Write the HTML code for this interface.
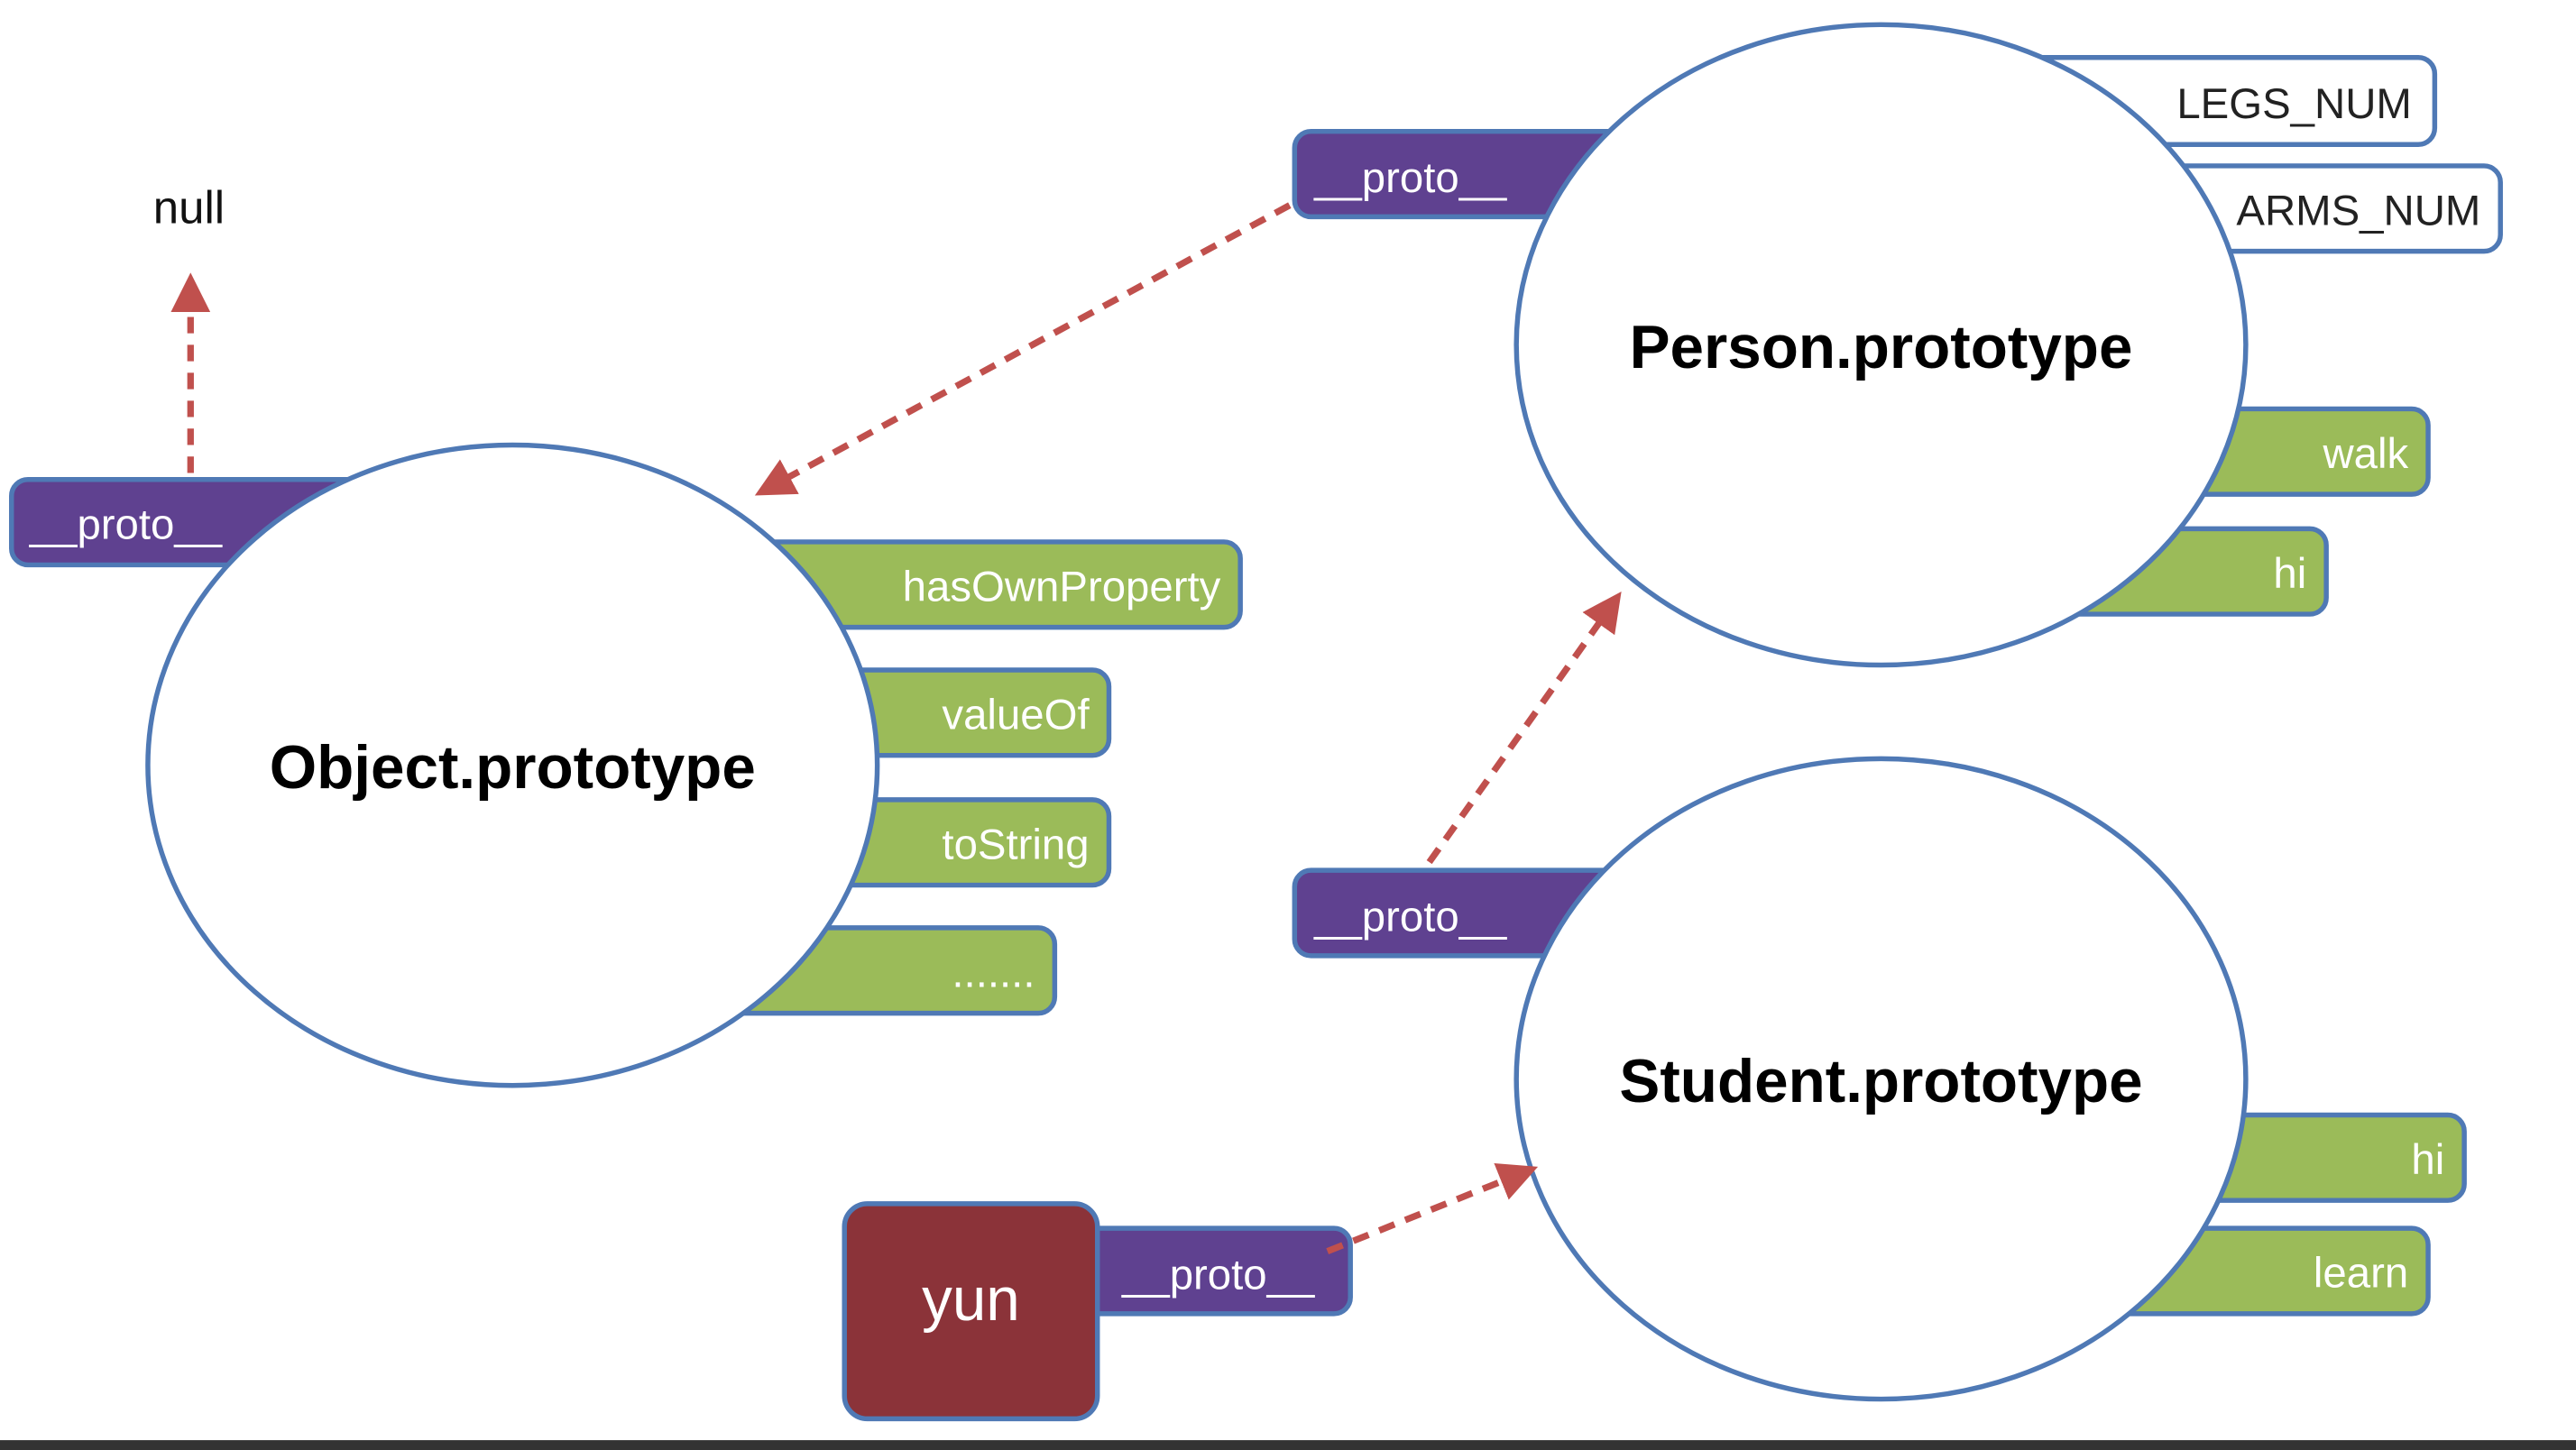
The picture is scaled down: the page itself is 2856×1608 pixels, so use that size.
<!DOCTYPE html>
<html><head><meta charset="utf-8"><style>
html,body{margin:0;padding:0;background:#fff;width:2856px;height:1608px;overflow:hidden}
svg{display:block}
text{font-family:"Liberation Sans",sans-serif}
</style></head><body>
<svg width="2856" height="1608" viewBox="0 0 1568 883" preserveAspectRatio="none" xmlns="http://www.w3.org/2000/svg">
<defs>
<marker id="ah" markerWidth="6" markerHeight="6" refX="3" refY="3" orient="auto" markerUnits="strokeWidth">
<path d="M0,0 L6,3 L0,6 z" fill="#c0504d"/></marker>
</defs>
<rect width="1568" height="883" fill="#fff"/>
<g stroke="#4f79b5" stroke-width="3">
<!-- object pills -->
<rect x="7" y="292" width="230" height="52" rx="10" fill="#5f4190"/>
<rect x="440" y="330" width="315" height="52" rx="10" fill="#9bbb59"/>
<rect x="480" y="408" width="195" height="52" rx="10" fill="#9bbb59"/>
<rect x="480" y="487" width="195" height="52" rx="10" fill="#9bbb59"/>
<rect x="430" y="565" width="212" height="52" rx="10" fill="#9bbb59"/>
<!-- person pills -->
<rect x="788" y="80" width="230" height="52" rx="10" fill="#5f4190"/>
<rect x="1200" y="35" width="282" height="53" rx="10" fill="#fff"/>
<rect x="1280" y="101" width="242" height="52" rx="10" fill="#fff"/>
<rect x="1300" y="249" width="178" height="52" rx="10" fill="#9bbb59"/>
<rect x="1240" y="322" width="176" height="52" rx="10" fill="#9bbb59"/>
<!-- student pills -->
<rect x="788" y="530" width="230" height="52" rx="10" fill="#5f4190"/>
<rect x="1300" y="679" width="200" height="52" rx="10" fill="#9bbb59"/>
<rect x="1260" y="748" width="218" height="52" rx="10" fill="#9bbb59"/>
<!-- yun -->
<rect x="640" y="748" width="182" height="52" rx="10" fill="#5f4190"/>
<rect x="514" y="733" width="154" height="131" rx="14" fill="#8b3339"/>
<!-- ellipses -->
<ellipse cx="312" cy="466" rx="222" ry="195" fill="#fff"/>
<ellipse cx="1145" cy="210" rx="222" ry="195" fill="#fff"/>
<ellipse cx="1145" cy="657" rx="222" ry="195" fill="#fff"/>
</g>
<g stroke="#c0504d" stroke-width="4" stroke-dasharray="10,7" fill="none" marker-end="url(#ah)">
<line x1="116" y1="288" x2="116" y2="178"/>
<line x1="785" y1="125" x2="470" y2="296"/>
<line x1="870" y1="525" x2="980" y2="370"/>
<line x1="808" y1="762" x2="925" y2="715"/>
</g>
<g font-size="26" fill="#fff">
<text x="18" y="328">__proto__</text>
<text x="800" y="117">__proto__</text>
<text x="800" y="567">__proto__</text>
<text x="683" y="785">__proto__</text>
<g text-anchor="end">
<text x="743" y="366">hasOwnProperty</text>
<text x="663" y="444">valueOf</text>
<text x="663" y="523">toString</text>
<text x="630" y="601">.......</text>
<text x="1466" y="285">walk</text>
<text x="1404" y="358">hi</text>
<text x="1488" y="715">hi</text>
<text x="1466" y="784">learn</text>
</g>
</g>
<g font-size="26" fill="#222" text-anchor="end">
<text x="1468" y="72">LEGS_NUM</text>
<text x="1510" y="137">ARMS_NUM</text>
</g>
<text x="115" y="136" font-size="28" fill="#111" text-anchor="middle">null</text>
<g font-size="37" font-weight="bold" fill="#000" text-anchor="middle">
<text x="312" y="480">Object.prototype</text>
<text x="1145" y="224">Person.prototype</text>
<text x="1145" y="671">Student.prototype</text>
</g>
<text x="591" y="804" font-size="37" fill="#fff" text-anchor="middle">yun</text>
<rect x="0" y="877" width="1568" height="6" fill="#333"/>
</svg>
</body></html>
